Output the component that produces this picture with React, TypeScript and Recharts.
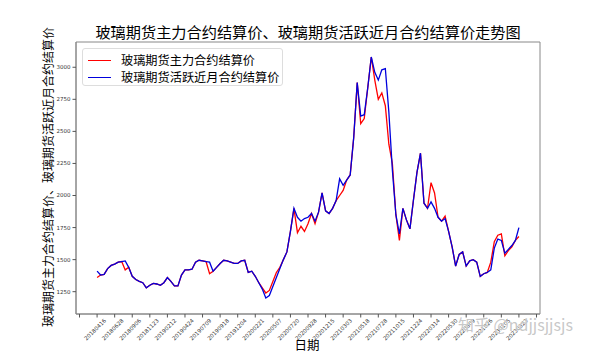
import React from 'react';
import { LineChart, Line, XAxis, YAxis, ReferenceArea } from 'recharts';

// trading-day index step between sampled points
const STEP = 10;

// 玻璃期货活跃近月合约结算价 (blue)
const activeSettle = [
  1410, 1380, 1385, 1430, 1455, 1465, 1480, 1485, 1490, 1440,
  1370, 1345, 1330, 1320, 1280, 1300, 1315, 1310, 1300, 1320,
  1360, 1330, 1295, 1295, 1380, 1420, 1420, 1425, 1480, 1495,
  1490, 1485, 1480, 1410, 1440, 1470, 1495, 1490, 1480, 1470,
  1470, 1490, 1495, 1400, 1410, 1370, 1320, 1270, 1200, 1220,
  1290, 1360, 1430, 1500, 1560, 1720, 1900, 1830, 1800, 1820,
  1830, 1860, 1800, 1870, 2020, 1880, 1860, 1900, 1960, 2130,
  2080, 2120, 2160, 2450, 2880, 2620, 2630, 2840, 3080, 2960,
  2900, 2980, 2990, 2650, 2200, 1850, 1700, 1900, 1810, 1740,
  1965, 2180, 2330, 1940, 1900, 1950, 1900, 1830, 1800, 1820,
  1720, 1600, 1450, 1540, 1560, 1450, 1490, 1500, 1480, 1370,
  1390, 1400, 1420, 1590, 1660, 1650, 1550, 1580, 1610, 1650,
  1750,
];

// 玻璃期货主力合约结算价 (red)
const mainSettle = [
  1360, 1380, 1385, 1430, 1455, 1465, 1480, 1485, 1420, 1440,
  1370, 1345, 1330, 1320, 1280, 1300, 1315, 1310, 1300, 1320,
  1360, 1330, 1295, 1295, 1380, 1420, 1420, 1425, 1480, 1495,
  1490, 1485, 1390, 1410, 1440, 1470, 1495, 1490, 1480, 1470,
  1470, 1490, 1495, 1400, 1410, 1370, 1320, 1280, 1240, 1260,
  1330, 1400, 1440, 1500, 1560, 1720, 1900, 1710, 1760, 1720,
  1780, 1860, 1780, 1870, 2020, 1880, 1860, 1900, 1960, 2000,
  2040, 2120, 2160, 2450, 2880, 2560, 2600, 2840, 3080, 2900,
  2750, 2800, 2700, 2400, 2250, 1850, 1650, 1900, 1810, 1740,
  1965, 2180, 2330, 1940, 1900, 2100, 2020, 1830, 1800, 1840,
  1720, 1600, 1450, 1540, 1560, 1450, 1490, 1500, 1480, 1370,
  1390, 1400, 1480, 1640, 1690, 1700, 1530, 1570, 1600, 1650,
  1680,
];

const xTickIdx = [
  -50, 0, 50, 100, 150, 200, 250, 300, 350, 400, 450, 500, 550, 600,
  650, 700, 750, 800, 850, 900, 950, 1000, 1050, 1100, 1150, 1200, 1250,
];
const xTickLabels = [
  '', '20180416', '20180628', '20180906', '20181123', '20190212', '20190424',
  '20190709', '20190918', '20191204', '20200221', '20200507', '20200720',
  '20200928', '20201215', '20210303', '20210518', '20210728', '20211015',
  '20211224', '20220314', '20220530', '20220809', '20221026', '20230105',
  '20230323', '',
];
const yTicks = [1250, 1500, 1750, 2000, 2250, 2500, 2750, 3000];

const X_DOMAIN: [number, number] = [-60, 1260];
const Y_DOMAIN: [number, number] = [1076, 3197];

const series = [
  { key: 'main', name: '玻璃期货主力合约结算价', color: '#ff0000' },
  { key: 'active', name: '玻璃期货活跃近月合约结算价', color: '#0000dd' },
];

const data = activeSettle.map((v, i) => ({
  idx: i * STEP,
  main: mainSettle[i],
  active: v,
}));

const CJK = '"Noto Sans CJK SC", "Noto Sans", sans-serif';
const TICKFONT = '"DejaVu Sans", sans-serif';

const XTick = (props: any) => {
  const { x, y, payload } = props;
  const i = xTickIdx.indexOf(payload.value);
  const label = i >= 0 ? xTickLabels[i] : '';
  const cx = x - 2;
  const cy = y + 10;
  return (
    <text
      x={cx}
      y={cy}
      transform={`rotate(-45 ${cx} ${cy})`}
      textAnchor="middle"
      dominantBaseline="central"
      fontSize={5.5}
      fontFamily={TICKFONT}
      fill="#333"
    >
      {label}
    </text>
  );
};

export default function App() {
  return (
    <div
      style={{
        position: 'absolute',
        left: 0,
        top: 0,
        width: 600,
        height: 354,
        background: '#fff',
        overflow: 'hidden',
      }}
    >
      <LineChart
        width={600}
        height={354}
        data={data}
        margin={{ top: 42, right: 60, bottom: 0, left: 0 }}
      >
        <XAxis
          dataKey="idx"
          type="number"
          domain={X_DOMAIN}
          ticks={xTickIdx}
          allowDataOverflow
          height={40}
          interval={0}
          tickSize={3.5}
          tickLine={{ stroke: '#555' }}
          axisLine={{ stroke: '#888' }}
          tick={<XTick />}
        />
        <YAxis
          type="number"
          domain={Y_DOMAIN}
          ticks={yTicks}
          allowDataOverflow
          width={76}
          interval={0}
          tickSize={3.5}
          tickMargin={2}
          tickLine={{ stroke: '#555' }}
          axisLine={{ stroke: '#888' }}
          tick={{ fontSize: 5.5, fill: '#333', fontFamily: TICKFONT }}
        />
        <ReferenceArea
          x1={X_DOMAIN[0]}
          x2={X_DOMAIN[1]}
          y1={Y_DOMAIN[0]}
          y2={Y_DOMAIN[1]}
          fill="none"
          stroke="#888"
          strokeWidth={1}
          ifOverflow="visible"
        />
        {series.map((s) => (
          <Line
            key={s.key}
            dataKey={s.key}
            name={s.name}
            stroke={s.color}
            strokeWidth={1.3}
            dot={false}
            isAnimationActive={false}
          />
        ))}
      </LineChart>

      {/* title */}
      <div
        style={{
          position: 'absolute',
          left: 0,
          width: 616,
          top: 22,
          textAlign: 'center',
          fontFamily: CJK,
          fontSize: 15.2,
          lineHeight: '18px',
          color: '#000',
          whiteSpace: 'nowrap',
        }}
      >
        玻璃期货主力合约结算价、玻璃期货活跃近月合约结算价走势图
      </div>

      {/* y label */}
      <div
        style={{
          position: 'absolute',
          left: 48 - 200,
          top: 177 - 8,
          width: 400,
          height: 16,
          lineHeight: '16px',
          textAlign: 'center',
          transform: 'rotate(-90deg)',
          transformOrigin: '200px 8px',
          fontFamily: CJK,
          fontSize: 12,
          color: '#000',
          whiteSpace: 'nowrap',
        }}
      >
        玻璃期货主力合约结算价、玻璃期货活跃近月合约结算价
      </div>

      {/* x label */}
      <div
        style={{
          position: 'absolute',
          left: 257,
          width: 100,
          top: 338,
          textAlign: 'center',
          fontFamily: CJK,
          fontSize: 12.5,
          lineHeight: '13px',
          color: '#000',
        }}
      >
        日期
      </div>

      {/* legend */}
      <div
        style={{
          position: 'absolute',
          left: 82,
          top: 48,
          width: 201,
          height: 38,
          border: '1px solid #ddd',
          borderRadius: 3,
          background: 'rgba(255,255,255,0.8)',
          boxSizing: 'border-box',
          fontFamily: CJK,
          fontSize: 12.2,
          color: '#000',
        }}
      >
        {series.map((s, i) => (
          <div
            key={s.key}
            style={{
              position: 'absolute',
              left: 0,
              top: 4 + i * 17,
              height: 14,
              display: 'flex',
              alignItems: 'center',
              whiteSpace: 'nowrap',
            }}
          >
            <span
              style={{
                display: 'inline-block',
                marginLeft: 5,
                width: 23,
                height: 0,
                borderTop: `1.5px solid ${s.color}`,
              }}
            />
            <span style={{ marginLeft: 10, lineHeight: '14px' }}>{s.name}</span>
          </div>
        ))}
      </div>

      {/* watermark */}
      <div
        style={{
          position: 'absolute',
          left: 458,
          top: 315,
          fontFamily: CJK,
          fontSize: 16,
          lineHeight: '18px',
          color: 'rgba(190,190,190,0.85)',
          whiteSpace: 'nowrap',
          textShadow: '0 0 1px #fff',
        }}
      >
        知乎 @ndjjsjjsjs
      </div>
    </div>
  );
}
